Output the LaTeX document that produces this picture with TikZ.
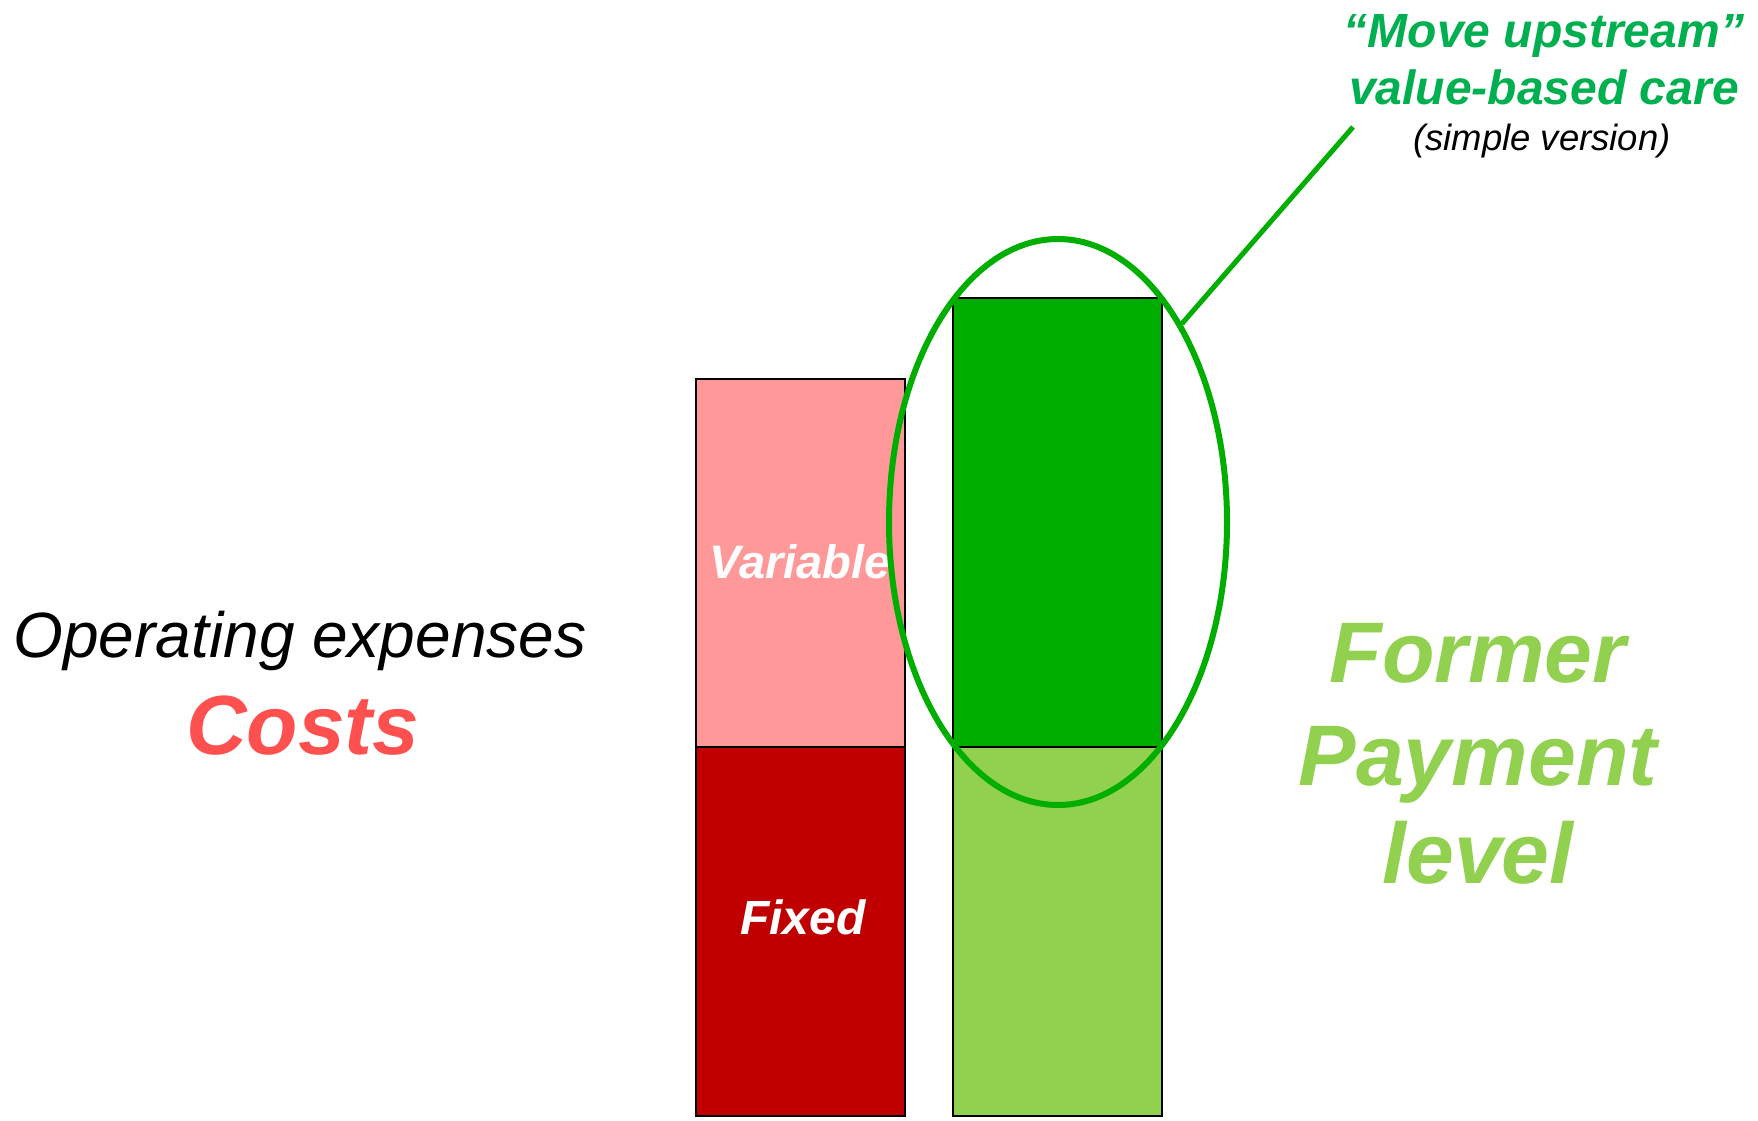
\documentclass[tikz,border=0pt]{standalone}
\usepackage{fontspec}
\setmainfont{Liberation Sans}
\usetikzlibrary{shapes.geometric}
\definecolor{pinkv}{HTML}{FF9999}
\definecolor{redf}{HTML}{C00000}
\definecolor{greend}{HTML}{00AE00}
\definecolor{greenl}{HTML}{92D050}
\definecolor{greent}{HTML}{00B050}
\definecolor{costred}{HTML}{FF5050}
\tikzset{
  bar/.style={draw=black, line width=1.5pt, minimum width=209, inner sep=0pt, outer sep=0pt},
  txt/.style={inner sep=0pt, anchor=base, align=center},
}
\begin{document}
\begin{tikzpicture}[x=1pt,y=-1pt]
\useasboundingbox (0,0) rectangle (1758,1120);
% bars
\node[bar, fill=pinkv, minimum height=368] (var) at (800.5,563) {};
\node[bar, fill=redf, minimum height=369] (fix) at (800.5,931.5) {};
\node[bar, fill=greend, minimum height=449] (gtop) at (1057.5,522.5) {};
\node[bar, fill=greenl, minimum height=369] (gbot) at (1057.5,931.5) {};
% bar labels
\node[txt, text=white] (tvar) at (800,578) {\fontsize{47}{56}\selectfont\bfseries\itshape Variable};
\node[txt, text=white] (tfix) at (803,934) {\fontsize{48}{57}\selectfont\bfseries\itshape Fixed};
% ellipse and pointer
\node[ellipse, draw=greend, line width=6pt, minimum width=338, minimum height=566, inner sep=0pt] (ell) at (1058,522) {};
\coordinate (tip) at (1353,127);
\draw[greend, line width=5pt] (ell.58.6) -- (tip);
% left texts
\node[txt] (opex) at (300,657) {\fontsize{64}{77}\selectfont\itshape Operating expenses};
\node[txt, text=costred] (costs) at (303,754) {\fontsize{84}{100}\selectfont\bfseries\itshape Costs};
% right texts
\node[txt, text=greenl] (former) at (1478,682) {\fontsize{86}{102}\selectfont\bfseries\itshape Former};
\node[txt, text=greenl] (payment) at (1478,785) {\fontsize{86}{102}\selectfont\bfseries\itshape Payment};
\node[txt, text=greenl] (level) at (1478,883) {\fontsize{86}{102}\selectfont\bfseries\itshape level};
% title
\node[txt, text=greent] (move) at (1544,47) {\fontsize{48}{57}\selectfont\bfseries\itshape “Move upstream”};
\node[txt, text=greent] (vbc) at (1544,104) {\fontsize{48}{57}\selectfont\bfseries\itshape value-based care};
\node[txt] (simple) at (1542,150) {\fontsize{36.5}{44}\selectfont\itshape (simple version)};
\end{tikzpicture}
\end{document}
